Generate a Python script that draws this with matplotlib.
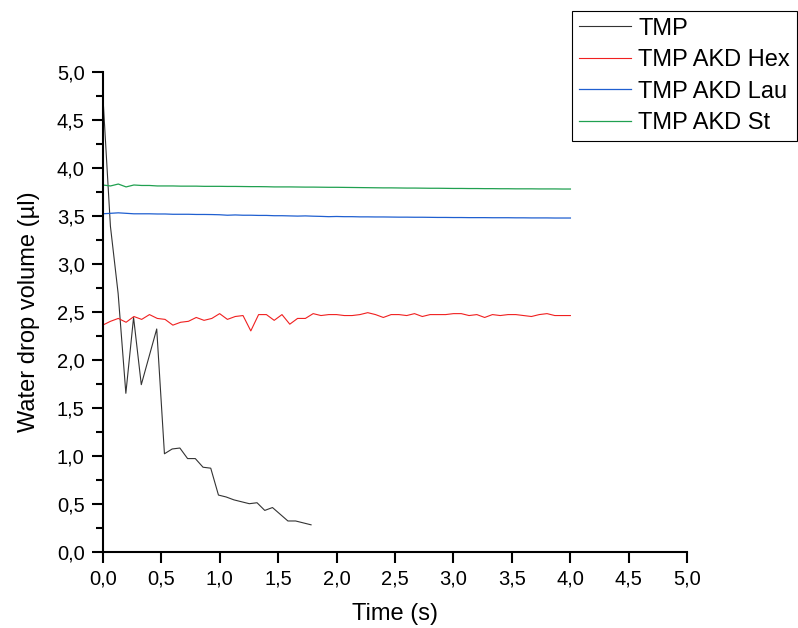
import numpy as np
import matplotlib
matplotlib.use("Agg")
import matplotlib.pyplot as plt
from matplotlib.ticker import MultipleLocator, FuncFormatter

plt.rcParams['font.family'] = ['Liberation Sans', 'DejaVu Sans']

dt = 0.066

# TMP (black), 28 points
tmp = [4.78, 3.39, 2.69, 1.65, 2.44, 1.74, 2.03, 2.32, 1.02, 1.07,
       1.08, 0.97, 0.97, 0.88, 0.87, 0.59, 0.57, 0.54, 0.52, 0.50,
       0.51, 0.43, 0.46, 0.39, 0.32, 0.32, 0.30, 0.28]

# TMP AKD Hex (red), 61 points
hex_ = [2.36, 2.40, 2.43, 2.39, 2.45, 2.42, 2.47, 2.43, 2.42, 2.36,
        2.39, 2.40, 2.44, 2.41, 2.43, 2.48, 2.42, 2.45, 2.46, 2.30,
        2.47, 2.47, 2.41, 2.47, 2.37, 2.43, 2.43, 2.48, 2.46, 2.47,
        2.47, 2.46, 2.46, 2.47, 2.49, 2.47, 2.44, 2.47, 2.47, 2.46,
        2.48, 2.45, 2.47, 2.47, 2.47, 2.48, 2.48, 2.46, 2.47, 2.44,
        2.47, 2.46, 2.47, 2.47, 2.46, 2.45, 2.47, 2.48, 2.46, 2.46,
        2.46]

# TMP AKD Lau (blue)
lau = [3.52, 3.525, 3.53, 3.525, 3.52, 3.52, 3.52, 3.518, 3.518, 3.515,
       3.515, 3.515, 3.513, 3.513, 3.512, 3.51, 3.505, 3.508, 3.505, 3.505,
       3.503, 3.503, 3.50, 3.50, 3.498, 3.496, 3.498, 3.495, 3.493, 3.49,
       3.492, 3.49, 3.49, 3.488, 3.488, 3.487, 3.487, 3.486, 3.485, 3.485,
       3.484, 3.484, 3.483, 3.482, 3.482, 3.481, 3.481, 3.48, 3.48, 3.48,
       3.479, 3.479, 3.479, 3.478, 3.478, 3.477, 3.477, 3.477, 3.476, 3.476,
       3.476]

# TMP AKD St (green)
st = [3.82, 3.81, 3.83, 3.80, 3.82, 3.815, 3.815, 3.81, 3.81, 3.81,
      3.808, 3.808, 3.808, 3.806, 3.806, 3.806, 3.805, 3.805, 3.804, 3.803,
      3.803, 3.802, 3.80, 3.80, 3.80, 3.799, 3.798, 3.798, 3.797, 3.796,
      3.796, 3.795, 3.794, 3.793, 3.792, 3.791, 3.79, 3.79, 3.789, 3.788,
      3.788, 3.787, 3.786, 3.786, 3.785, 3.784, 3.784, 3.783, 3.783, 3.782,
      3.782, 3.781, 3.781, 3.78, 3.78, 3.78, 3.779, 3.779, 3.779, 3.778,
      3.778]

t_tmp = np.arange(len(tmp)) * dt
t_long = np.linspace(0, 4.0, len(hex_))

fig = plt.figure(figsize=(7.98, 6.28), dpi=100)
ax = fig.add_axes([0.1287, 0.1215, 0.7326, 0.7643])

ax.plot(t_tmp, tmp, color='#333333', lw=0.8, label='TMP')
ax.plot(t_long, hex_, color='#f02020', lw=0.8, label='TMP AKD Hex')
ax.plot(t_long, lau, color='#1f5fd0', lw=0.9, label='TMP AKD Lau')
ax.plot(t_long, st, color='#20a050', lw=0.9, label='TMP AKD St')

ax.set_xlim(0, 5)
ax.set_ylim(0, 5)
ax.xaxis.set_major_locator(MultipleLocator(0.5))
ax.yaxis.set_major_locator(MultipleLocator(0.5))
ax.yaxis.set_minor_locator(MultipleLocator(0.25))
fmt = FuncFormatter(lambda v, p: f"{v:.1f}".replace('.', ','))
ax.xaxis.set_major_formatter(fmt)
ax.yaxis.set_major_formatter(fmt)

for s in ['top', 'right']:
    ax.spines[s].set_visible(False)
for s in ['left', 'bottom']:
    ax.spines[s].set_linewidth(1.5)
ax.tick_params(which='major', direction='out', length=8, width=1.5, labelsize=14.5, pad=5)
ax.tick_params(which='minor', direction='out', length=5, width=1.5)

ax.set_xlabel('Time (s)', fontsize=17, labelpad=10)
ax.set_ylabel('Water drop volume (µl)', fontsize=17, labelpad=12)

leg = fig.legend(loc='upper left', bbox_to_anchor=(0.717, 0.983), fontsize=17,
                 frameon=True, fancybox=False, edgecolor='black', framealpha=1,
                 handlelength=2.2, handletextpad=0.3, labelspacing=0.4,
                 borderpad=0.3, borderaxespad=0)
leg.get_frame().set_linewidth(0.8)

fig.savefig('out.png', dpi=100)
